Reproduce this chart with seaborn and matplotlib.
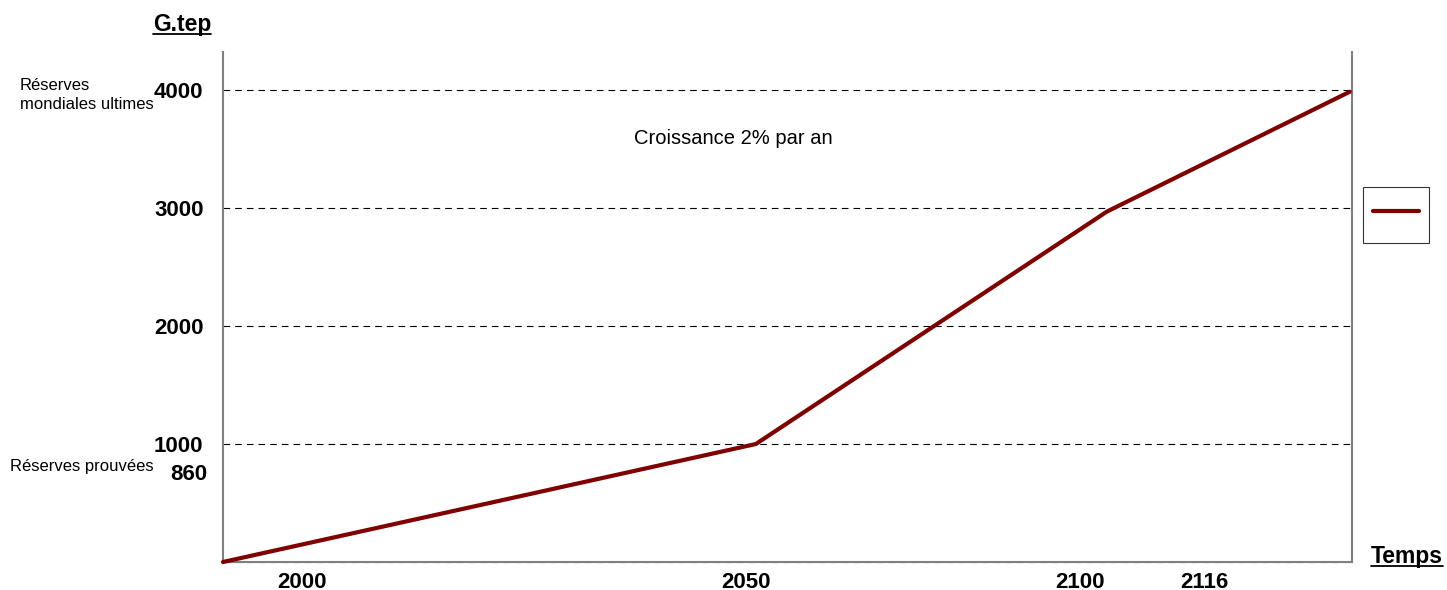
import matplotlib
matplotlib.use("Agg")
import matplotlib.pyplot as plt
import seaborn as sns
import pandas as pd
from matplotlib.lines import Line2D

# line data (x in position units along the time axis, 0..100)
time_pos = [0, 47.2, 78.3, 99.8]
gtep = [0, 1000, 2970, 3985]

# time axis labels and where they sit
year_labels = ["2000", "2050", "2100", "2116"]
year_pos = [7.0, 46.3, 75.9, 86.9]

grid_levels = [0, 1000, 2000, 3000, 4000]
level_labels = ["", "1000", "2000", "3000", "4000"]

sns.set_style("white")
plt.rcParams["font.family"] = ["Liberation Sans", "DejaVu Sans"]
plt.rcParams["text.color"] = "black"
plt.rcParams["xtick.color"] = "black"
plt.rcParams["ytick.color"] = "black"

df = pd.DataFrame({"pos": time_pos, "gtep": gtep})

fig = plt.figure(figsize=(14.47, 5.90), dpi=100)
ax = fig.add_axes([223 / 1447, 1 - 562 / 590, (1352 - 223) / 1447, (562 - 52) / 590])

sns.lineplot(data=df, x="pos", y="gtep", ax=ax, color="#800000", linewidth=3.0,
             clip_on=False, zorder=5)

ax.set_xlim(0, 100)
ax.set_ylim(0, 4322)
ax.set_yticks(grid_levels)
ax.set_yticklabels(level_labels, fontsize=16, fontweight="bold")
ax.set_xticks(year_pos)
ax.set_xticklabels(year_labels, fontsize=16, fontweight="bold")
ax.tick_params(axis="y", length=0, pad=14)
ax.tick_params(axis="x", length=0, pad=7)
ax.set_xlabel("")
ax.set_ylabel("")

for s in ["left", "right", "bottom"]:
    ax.spines[s].set_color("#808080")
    ax.spines[s].set_linewidth(1.5)
ax.spines["top"].set_visible(False)

ax.yaxis.grid(True, color="black", linestyle=(0, (6, 4.5)), linewidth=0.8)
ax.xaxis.grid(False)
for gl in ax.get_ygridlines():
    gl.set_clip_on(False)
    gl.set_zorder(3)

# 860 label sits just under 1000
ax.text(-0.0135, 0.172, "860", transform=ax.transAxes, ha="right", va="center",
        fontsize=16, fontweight="bold")

fig.text(20 / 1447, 1 - 95 / 590, "Réserves\nmondiales ultimes", ha="left", va="center",
         fontsize=12, linespacing=1.35)
fig.text(10 / 1447, 1 - 467 / 590, "Réserves prouvées", ha="left", va="center", fontsize=12)
fig.text(733 / 1447, 1 - 138 / 590, "Croissance 2% par an", ha="center", va="center",
         fontsize=14.5)

t1 = fig.text(182 / 1447, 1 - 25 / 590, "G.tep", ha="center", va="center",
              fontsize=16.5, fontweight="bold")
t2 = fig.text(1407 / 1447, 1 - 557 / 590, "Temps", ha="center", va="center",
              fontsize=16.5, fontweight="bold")

leg = ax.legend(handles=[ax.lines[0]], labels=[""], loc="center left",
                bbox_to_anchor=(1363 / 1447, 1 - 215 / 590),
                bbox_transform=fig.transFigure, frameon=True, fancybox=False,
                fontsize=28, handlelength=1.2, handletextpad=0, borderpad=0.25,
                borderaxespad=0)
leg.get_frame().set_edgecolor("black")
leg.get_frame().set_linewidth(0.8)

# underline the axis titles
fig.canvas.draw()
r = fig.canvas.get_renderer()
for t in (t1, t2):
    bb = t.get_window_extent(r).transformed(fig.transFigure.inverted())
    fig.add_artist(Line2D([bb.x0, bb.x1], [bb.y0 + 0.004, bb.y0 + 0.004],
                          transform=fig.transFigure, color="black", linewidth=1.3))

fig.savefig("out.png", dpi=100)
